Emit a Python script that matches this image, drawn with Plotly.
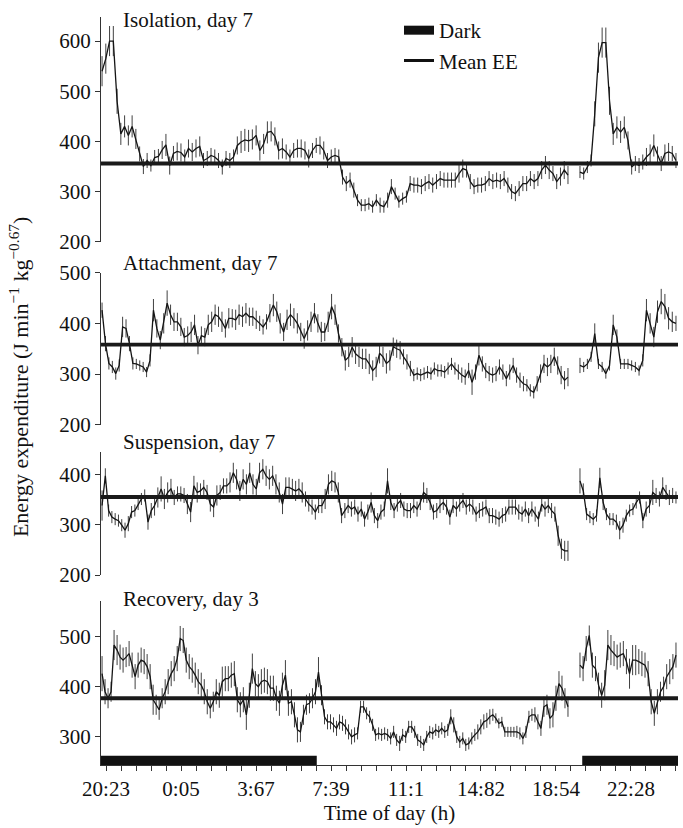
import numpy as np
import plotly.graph_objects as go

# ---------------- data ----------------
tick_labels = ["20:23", "0:05", "3:67", "7:39", "11:1", "14:82", "18:54", "22:28"]
tick_pos = [0, 1, 2, 3, 4, 5, 6, 7]
panel_titles = ["Isolation, day 7", "Attachment, day 7", "Suspension, day 7", "Recovery, day 3"]
mean_ee = [356, 358, 355, 377]

# recording segments on the time axis (before / after the data gap)
seg_before = (-0.053, 6.16)
seg_after = (6.32, 7.6)
dark_periods = [(-0.067, 2.81), (6.35, 7.627)]

iso_a = [540, 565, 600, 600, 480, 415, 430, 412, 430, 405,
         375, 350, 362, 352, 368, 370, 383, 393, 352, 376,
         380, 378, 369, 386, 379, 386, 390, 362, 366, 372,
         369, 362, 349, 366, 362, 369, 392, 399, 403, 401,
         404, 412, 382, 395, 418, 420, 410, 382, 386, 379,
         369, 382, 386, 386, 382, 366, 382, 392, 392, 382,
         362, 369, 372, 369, 329, 316, 323, 303, 283, 273,
         273, 276, 270, 283, 273,
         270, 283, 310, 296, 280, 286, 290, 316, 313, 313,
         310, 316, 320, 313, 320, 326, 323, 323, 323, 323,
         336, 346, 343, 320, 310, 313, 313, 316, 326, 320,
         323, 320, 326, 313, 300, 296, 306, 316, 316, 326,
         320, 326, 343, 353, 343, 336, 320, 330, 343, 333]
iso_a_err = [30, 30, 30, 30, 25, 22, 22, 20, 22, 20,
             15, 15, 15, 12, 15, 15, 18, 22, 18, 15,
             18, 18, 15, 18, 18, 18, 20, 15, 15, 15,
             15, 15, 15, 15, 15, 15, 18, 22, 22, 22,
             20, 20, 20, 20, 22, 20, 18, 18, 20, 15,
             15, 15, 18, 18, 18, 18, 15, 15, 18, 18,
             15, 15, 15, 15, 15, 15, 15, 15, 12, 12,
             12, 12, 12, 12, 15,
             12, 15, 15, 12, 12, 12, 12, 15, 15, 15,
             15, 15, 15, 15, 15, 15, 15, 15, 15, 15,
             18, 18, 15, 15, 15, 15, 15, 15, 15, 15,
             15, 15, 15, 15, 15, 15, 15, 15, 15, 15,
             15, 15, 18, 18, 18, 15, 15, 18, 18, 18]
iso_b = [339, 336, 349, 362, 455, 567, 597, 597, 481, 415,
         428, 419, 428, 402, 349, 356, 352, 359, 369, 376,
         392, 372, 356, 376, 379, 376, 362]
iso_b_err = [12, 12, 12, 12, 25, 30, 30, 30, 28, 22,
             22, 22, 22, 18, 15, 15, 15, 15, 18, 18,
             22, 18, 15, 18, 18, 15, 15]

att_a = [426, 360, 321, 314, 301, 317, 393, 390, 360, 321,
         320, 317, 314, 304, 327, 426, 390, 367, 400, 440,
         417, 403, 403, 393, 373, 376, 383, 397, 357, 376,
         373, 397, 403, 417, 413, 403, 390, 410, 410, 407,
         417, 413, 420, 413, 413, 407, 400, 393, 403, 420,
         436, 423, 400, 383, 407, 417, 410, 400, 383, 370,
         386, 403, 420, 400, 383, 383, 403, 433, 417, 380,
         353, 327, 334, 353, 340, 334, 330, 330, 320, 307,
         314,
         341, 334, 321, 327, 354, 350, 347, 334, 324, 311,
         298, 301, 298, 301, 304, 301, 311, 307, 307, 304,
         311, 320, 311, 304, 298, 294, 307, 284, 304, 337,
         320, 307, 301, 298, 301, 314, 304, 291, 304, 317,
         298, 288, 281, 278, 268, 264, 281, 301, 320, 314,
         320, 334, 317, 298, 288, 294]
att_a_err = [15, 15, 12, 12, 12, 12, 20, 18, 15, 12,
             10, 10, 10, 10, 12, 22, 18, 18, 20, 25,
             20, 18, 18, 18, 18, 18, 20, 20, 18, 18,
             18, 20, 20, 20, 20, 20, 18, 20, 18, 20,
             20, 20, 20, 18, 18, 18, 15, 15, 15, 18,
             22, 20, 20, 18, 20, 22, 20, 20, 18, 20,
             20, 20, 20, 18, 20, 18, 20, 25, 20, 18,
             18, 20, 20, 20, 20, 20, 20, 20, 20, 20,
             20,
             20, 20, 20, 20, 18, 18, 18, 15, 15, 15,
             12, 12, 12, 12, 12, 12, 12, 12, 12, 12,
             12, 12, 12, 15, 15, 15, 15, 25, 15, 20,
             15, 15, 15, 15, 15, 15, 15, 15, 15, 15,
             15, 15, 15, 12, 12, 12, 15, 18, 18, 18,
             18, 18, 18, 18, 18, 18]
att_b = [317, 314, 320, 334, 380, 320, 314, 301, 317, 397,
         373, 320, 320, 320, 317, 314, 307, 327, 426, 400,
         373, 423, 443, 433, 410, 403, 400]
att_b_err = [15, 10, 10, 10, 20, 10, 10, 10, 10, 20,
             15, 10, 10, 10, 10, 10, 10, 12, 22, 20,
             20, 22, 25, 25, 22, 20, 15]

sus_a = [338, 397, 328, 315, 311, 308, 299, 289, 302, 325,
         328, 341, 351, 358, 305, 328, 338, 354, 371, 351,
         364, 371, 354, 361, 361, 358, 341, 325, 377, 364,
         367, 374, 364, 341, 335, 358, 364, 377, 377, 384,
         403, 390, 367, 390, 380, 403, 380, 371, 403, 410,
         397, 390, 397, 380, 364, 341, 374, 374, 371, 367,
         371, 364, 351, 341, 335, 325, 338, 338, 351, 380,
         387, 384, 364, 318, 328, 338, 331, 335, 321, 331,
         311, 325, 344, 318,
         308, 325, 331, 387, 344, 328, 341, 348, 331, 328,
         328, 338, 331, 344, 364, 358, 344, 325, 328, 338,
         344, 335, 315, 338, 331, 341, 348, 335, 341, 335,
         321, 328, 331, 335, 318, 318, 315, 311, 318, 321,
         335, 335, 335, 325, 321, 331, 318, 331, 321, 311,
         341, 331, 338, 328, 321, 278, 252, 248, 248]
sus_a_err = [30, 15, 12, 12, 12, 12, 12, 15, 15, 12,
             12, 12, 12, 12, 15, 15, 20, 20, 25, 20,
             20, 20, 15, 15, 15, 15, 20, 20, 20, 20,
             15, 15, 15, 15, 20, 20, 15, 15, 15, 20,
             20, 20, 20, 20, 20, 20, 20, 20, 20, 20,
             20, 20, 20, 20, 20, 20, 20, 20, 20, 20,
             20, 20, 15, 15, 15, 15, 15, 15, 20, 20,
             20, 20, 20, 15, 15, 15, 15, 15, 15, 15,
             15, 15, 20, 15,
             15, 15, 15, 25, 15, 15, 15, 15, 15, 15,
             15, 15, 15, 15, 20, 15, 15, 15, 15, 15,
             15, 15, 15, 15, 15, 15, 15, 15, 15, 15,
             15, 15, 15, 15, 15, 15, 15, 15, 15, 15,
             15, 15, 15, 15, 15, 15, 15, 15, 15, 15,
             15, 15, 15, 15, 15, 20, 20, 20, 20]
sus_b = [387, 367, 321, 315, 311, 318, 393, 344, 321, 311,
         311, 305, 289, 299, 318, 328, 331, 344, 354, 308,
         331, 338, 364, 358, 351, 374, 364, 354, 358, 354]
sus_b_err = [25, 15, 12, 12, 12, 12, 20, 15, 12, 12,
             12, 15, 18, 15, 12, 12, 12, 12, 12, 15,
             15, 15, 25, 15, 15, 20, 15, 15, 15, 12]

rec_a = [426, 390, 377, 390, 483, 473, 459, 453, 459, 466,
         443, 420, 443, 453, 450, 440, 420, 374, 364, 354,
         377, 390, 410, 426, 436, 456, 496, 492, 453, 440,
         433, 423, 410, 403, 390, 370, 357, 370, 390, 383,
         410, 416, 416, 423, 426, 374, 364, 374, 344, 383,
         436, 406, 400, 410, 413, 410, 397, 397, 377, 367,
         403, 423, 367, 370, 344, 314, 310, 344, 364, 367,
         377, 390, 429, 383, 340, 330, 330, 324, 317, 330,
         327, 320, 310, 300, 304, 307, 360, 360, 347, 340,
         324, 304, 307, 304, 307, 304, 297, 310, 294, 287,
         304, 300, 320, 320, 310, 294, 290, 284, 300, 310,
         307, 314, 310, 317, 310, 314, 340, 324, 300, 290,
         297, 284, 287, 297, 304, 310, 320, 330, 333, 340,
         344, 337, 327, 330, 310, 310, 310, 310, 310, 307,
         297, 310, 340, 344, 344, 330, 317, 360, 364, 337,
         344, 377, 406, 397, 377, 360]
rec_a_err = [35, 25, 20, 20, 30, 30, 25, 25, 20, 25,
             25, 25, 25, 25, 25, 25, 25, 30, 20, 20,
             20, 25, 25, 25, 25, 25, 25, 25, 25, 25,
             25, 25, 25, 25, 25, 25, 20, 20, 25, 25,
             30, 25, 25, 25, 25, 25, 25, 25, 30, 25,
             30, 25, 25, 25, 25, 25, 25, 25, 25, 25,
             25, 30, 25, 25, 25, 25, 20, 20, 20, 20,
             20, 25, 30, 20, 15, 15, 15, 15, 15, 15,
             15, 15, 15, 15, 15, 12, 12, 12, 12, 12,
             12, 12, 12, 12, 12, 12, 12, 12, 12, 15,
             12, 12, 12, 12, 12, 12, 12, 12, 12, 12,
             12, 12, 12, 12, 12, 12, 15, 15, 12, 12,
             12, 12, 12, 12, 12, 15, 15, 15, 15, 15,
             12, 10, 10, 10, 10, 10, 10, 10, 12, 12,
             12, 12, 12, 12, 15, 15, 15, 20, 20, 20,
             25, 25, 25, 25, 20, 20]
rec_b = [443, 436, 476, 502, 443, 436, 403, 383, 403, 483,
         473, 466, 459, 463, 466, 450, 426, 453, 453, 450,
         446, 443, 426, 370, 347, 370, 390, 400, 420, 430,
         440, 463]
rec_b_err = [25, 25, 25, 20, 25, 25, 25, 25, 30, 30,
             30, 25, 25, 25, 25, 25, 30, 30, 30, 25,
             25, 25, 25, 25, 25, 25, 20, 20, 25, 25,
             25, 25]

panels = [
    (iso_a, iso_a_err, iso_b, iso_b_err),
    (att_a, att_a_err, att_b, att_b_err),
    (sus_a, sus_a_err, sus_b, sus_b_err),
    (rec_a, rec_a_err, rec_b, rec_b_err),
]
y_ranges = [[200, 648], [200, 500], [200, 445], [244, 571]]
y_ticks = [[200, 300, 400, 500, 600], [200, 300, 400, 500], [200, 300, 400], [300, 400, 500]]

# ---------------- styling / layout ----------------
FONT = "Liberation Serif"
FS = 21
W, H = 683, 828
ML, MR, MT, MB = 101, 5, 13, 63
plot_h = H - MT - MB


def ypaper(px):
    return (H - MB - px) / plot_h


domains_px = [(13, 239), (270, 423), (450, 574), (600, 765)]
domains = [[ypaper(b), ypaper(t)] for (t, b) in domains_px]
x_range = [-0.067, 7.627]

fig = go.Figure()

for p, (va, ea, vb, eb) in enumerate(panels):
    yname = "y" if p == 0 else f"y{p + 1}"
    xs = list(np.linspace(seg_before[0], seg_before[1], len(va))) + [None] + \
        list(np.linspace(seg_after[0], seg_after[1], len(vb)))
    ys = list(va) + [None] + list(vb)
    es = list(ea) + [None] + list(eb)
    fig.add_trace(go.Scatter(
        x=xs, y=ys, mode="lines", xaxis="x", yaxis=yname,
        line=dict(color="#151515", width=1.3),
        error_y=dict(type="data", array=es, visible=True, color="#404040",
                     thickness=1, width=0),
        showlegend=False, hoverinfo="skip", connectgaps=False,
    ))
    fig.add_shape(type="line", xref="x domain", yref=yname, x0=0, x1=1,
                  y0=mean_ee[p], y1=mean_ee[p], line=dict(color="#1a1a1a", width=3.8))
    fig.add_annotation(text=panel_titles[p], xref="paper", yref="paper",
                       x=(121 - ML) / (W - ML - MR),
                       y=ypaper([16, 260, 440, 598][p]),
                       xanchor="left", yanchor="middle", showarrow=False,
                       font=dict(family=FONT, size=FS, color="#111"))

# dark periods on the bottom panel
for (a, b) in dark_periods:
    fig.add_shape(type="rect", xref="x", yref="y4 domain", x0=a, x1=b, y0=0, y1=0.057,
                  fillcolor="#111", line=dict(width=0), layer="above")

# legend entries
fig.add_trace(go.Scatter(x=[None], y=[None], mode="lines", name="Dark",
                         line=dict(color="#111", width=9), xaxis="x", yaxis="y"))
fig.add_trace(go.Scatter(x=[None], y=[None], mode="lines", name="Mean EE",
                         line=dict(color="#111", width=3), xaxis="x", yaxis="y"))

axis_common = dict(showline=True, linecolor="#333", linewidth=1, ticks="outside",
                   ticklen=5, tickcolor="#333", showgrid=False, zeroline=False,
                   tickfont=dict(family=FONT, size=FS, color="#111"))

layout = dict(
    width=W, height=H,
    margin=dict(l=ML, r=MR, t=MT, b=MB),
    paper_bgcolor="white", plot_bgcolor="white",
    font=dict(family=FONT, size=FS, color="#111"),
    legend=dict(x=(399 - ML) / (W - ML - MR), y=ypaper(6), xanchor="left", yanchor="top",
                bgcolor="rgba(0,0,0,0)", borderwidth=0,
                font=dict(family=FONT, size=FS, color="#111"), tracegroupgap=0),
    xaxis=dict(anchor="y4", range=x_range, tickmode="array", tickvals=tick_pos,
               ticktext=tick_labels,
               minor=dict(ticks="outside", ticklen=5, tickcolor="#333", tick0=0, dtick=0.2),
               title=dict(text="Time of day (h)", font=dict(family=FONT, size=FS), standoff=4),
               **axis_common),
)
for p in range(4):
    key = "yaxis" if p == 0 else f"yaxis{p + 1}"
    layout[key] = dict(domain=domains[p], anchor="x", range=y_ranges[p],
                       tickmode="array", tickvals=y_ticks[p], **axis_common)

fig.update_layout(**layout)

fig.add_annotation(text="Energy expenditure (J min<sup>\u22121</sup> kg<sup>\u22120.67</sup>)",
                   xref="paper", yref="paper", x=(19 - ML) / (W - ML - MR), y=ypaper(375),
                   textangle=-90, showarrow=False, xanchor="center", yanchor="middle",
                   font=dict(family=FONT, size=22, color="#111"))

fig.write_html("out.html")
